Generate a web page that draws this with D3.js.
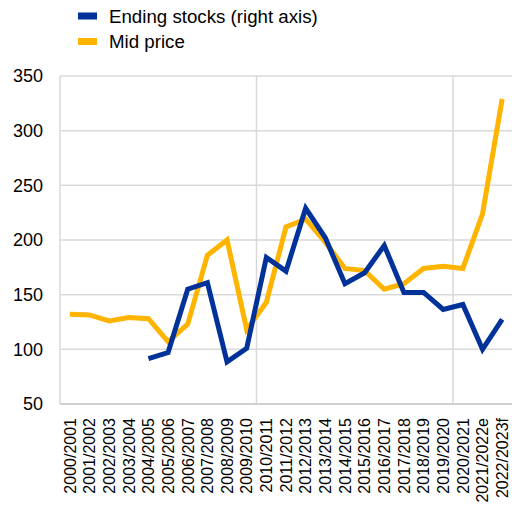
<!DOCTYPE html>
<html>
<head>
<meta charset="utf-8">
<script src="https://cdn.jsdelivr.net/npm/d3@7"></script>
<style>
  html, body { margin: 0; padding: 0; background: #fff; }
  svg { display: block; font-family: "Liberation Sans", Arial, sans-serif; }
</style>
</head>
<body>
<svg id="chart" width="512" height="515"></svg>
<script>
// Marketing years
const seasons = [
  "2000/2001", "2001/2002", "2002/2003", "2003/2004", "2004/2005", "2005/2006",
  "2006/2007", "2007/2008", "2008/2009", "2009/2010", "2010/2011", "2011/2012",
  "2012/2013", "2013/2014", "2014/2015", "2015/2016", "2016/2017", "2017/2018",
  "2018/2019", "2019/2020", "2020/2021", "2021/2022e", "2022/2023f"
];

// Mid price (left axis)
const midPrice = [
  132, 131.5, 126, 129, 128, 107, 123, 186, 200, 118, 143, 212,
  219, 198, 174, 172, 155, 160, 174, 176, 174, 224, 329
];

// Ending stocks (right axis); no data before 2004/2005
const endingStocks = [
  null, null, null, null, 91.5, 97, 155, 161, 88.5, 101, 184, 171.5,
  229, 202, 160, 170, 195, 152, 152, 136.5, 141, 100, 127.5
];

const leftTicks = [50, 100, 150, 200, 250, 300, 350];

const legendItems = [
  { label: "Ending stocks (right axis)", color: "#003299" },
  { label: "Mid price", color: "#FFB400" }
];

const svg = d3.select("#chart");
const margin = { left: 60, right: 0, top: 76, bottom: 111 };
const W = 512, H = 515;
const plotB = H - margin.bottom;

const x = d3.scaleBand().domain(seasons).range([margin.left, W - margin.right]).padding(0);
const yLeft = d3.scaleLinear().domain([50, 350]).range([plotB, margin.top]);
const yRight = d3.scaleLinear().domain([50, 350]).range([plotB, margin.top]);

const gridColor = "#d9d9d9";

// Horizontal gridlines
svg.append("g")
  .selectAll("line")
  .data(leftTicks)
  .join("line")
  .attr("x1", margin.left).attr("x2", W - margin.right)
  .attr("y1", d => yLeft(d)).attr("y2", d => yLeft(d))
  .attr("stroke", gridColor).attr("stroke-width", 1.5);

// Vertical dividers every ten seasons
svg.append("g")
  .selectAll("line")
  .data([0, 10, 20])
  .join("line")
  .attr("x1", i => x(seasons[i])).attr("x2", i => x(seasons[i]))
  .attr("y1", margin.top).attr("y2", plotB)
  .attr("stroke", gridColor).attr("stroke-width", 1.5);

// Bottom axis line
svg.append("line")
  .attr("x1", margin.left).attr("x2", W - margin.right)
  .attr("y1", plotB).attr("y2", plotB)
  .attr("stroke", "#d0d0d0").attr("stroke-width", 2);

// Left axis labels
const yAxis = d3.axisLeft(yLeft).tickValues(leftTicks).tickSize(0).tickPadding(17);
const gy = svg.append("g").attr("transform", `translate(${margin.left},0)`).call(yAxis);
gy.select(".domain").remove();
gy.selectAll("text")
  .attr("font-size", 18)
  .attr("font-family", "Liberation Sans, Arial, sans-serif")
  .attr("fill", "#000");

// Category labels, rotated
const xAxis = d3.axisBottom(x).tickSize(0).tickPadding(0);
const gx = svg.append("g").attr("transform", `translate(0,${plotB})`).call(xAxis);
gx.select(".domain").remove();
gx.selectAll("text")
  .attr("font-size", 16)
  .attr("font-family", "Liberation Sans, Arial, sans-serif")
  .attr("fill", "#000")
  .attr("text-anchor", "end")
  .attr("transform", "rotate(-90)")
  .attr("x", -14)
  .attr("y", 0)
  .attr("dy", "0.36em");

const cx = d => x(d) + x.bandwidth() / 2;

// Mid price line
svg.append("path")
  .datum(seasons.map((s, i) => [s, midPrice[i]]))
  .attr("fill", "none")
  .attr("stroke", legendItems[1].color)
  .attr("stroke-width", 5)
  .attr("d", d3.line().defined(d => d[1] != null).x(d => cx(d[0])).y(d => yLeft(d[1])));

// Ending stocks line
svg.append("path")
  .datum(seasons.map((s, i) => [s, endingStocks[i]]))
  .attr("fill", "none")
  .attr("stroke", legendItems[0].color)
  .attr("stroke-width", 5)
  .attr("d", d3.line().defined(d => d[1] != null).x(d => cx(d[0])).y(d => yRight(d[1])));

// Legend
const lg = svg.append("g");
legendItems.forEach((item, i) => {
  const yy = 16 + i * 25.5;
  lg.append("rect")
    .attr("x", 78).attr("y", yy - 3.5)
    .attr("width", 19).attr("height", 7)
    .attr("fill", item.color);
  lg.append("text")
    .attr("x", 109).attr("y", yy)
    .attr("dy", "0.35em")
    .attr("font-size", 18.7)
    .attr("fill", "#000")
    .text(item.label);
});
</script>
</body>
</html>
